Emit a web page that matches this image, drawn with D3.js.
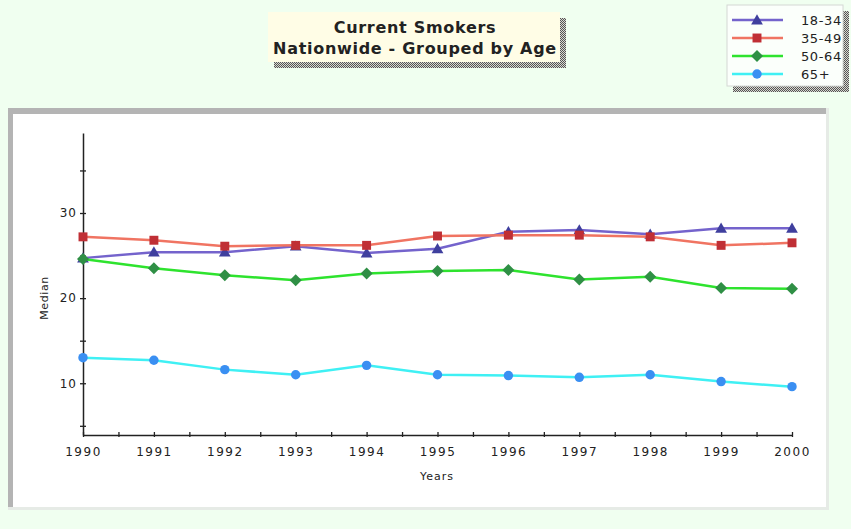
<!DOCTYPE html>
<html>
<head>
<meta charset="utf-8">
<script src="https://cdn.jsdelivr.net/npm/d3@7"></script>
<style>
  html, body { margin: 0; padding: 0; background: #f0fff0; }
  svg { display: block; }
  text { font-family: "DejaVu Sans", Verdana, sans-serif; fill: #222; }
</style>
</head>
<body>
<svg id="chart" width="851" height="529"></svg>
<script>
// Median share of current smokers, by age group, 1990-2000
const years = [1990, 1991, 1992, 1993, 1994, 1995, 1996, 1997, 1998, 1999, 2000];
const age18to34 = [24.7, 25.4, 25.4, 26.1, 25.3, 25.8, 27.8, 28.0, 27.5, 28.2, 28.2];
const age35to49 = [27.2, 26.8, 26.1, 26.2, 26.2, 27.3, 27.4, 27.4, 27.2, 26.2, 26.5];
const age50to64 = [24.6, 23.5, 22.7, 22.1, 22.9, 23.2, 23.3, 22.2, 22.5, 21.2, 21.1];
const age65plus = [13.0, 12.7, 11.6, 11.0, 12.1, 11.0, 10.9, 10.7, 11.0, 10.2, 9.6];
const seriesNames = ["18-34", "35-49", "50-64", "65+"];
const yTickValues = [5, 10, 15, 20, 25, 30, 35];
const yTickLabels = [10, 20, 30];
const xTickValues = [1990, 1990.5, 1991, 1991.5, 1992, 1992.5, 1993, 1993.5, 1994, 1994.5,
                     1995, 1995.5, 1996, 1996.5, 1997, 1997.5, 1998, 1998.5, 1999, 1999.5, 2000];
const titleLines = ["Current Smokers", "Nationwide - Grouped by Age"];

// square diamond (a square turned 45 degrees)
const symbolRhombus = {
  draw(ctx, size) {
    const r = Math.sqrt(size / 2);
    ctx.moveTo(0, -r); ctx.lineTo(r, 0); ctx.lineTo(0, r); ctx.lineTo(-r, 0); ctx.closePath();
  }
};

const series = [
  { name: seriesNames[0], values: age18to34, line: "#7463cc", mark: "#3f3f9e", symbol: d3.symbolTriangle, size: 60, dy: 1 },
  { name: seriesNames[1], values: age35to49, line: "#f07462", mark: "#c02f35", symbol: d3.symbolSquare, size: 80, dy: 0 },
  { name: seriesNames[2], values: age50to64, line: "#2ee32e", mark: "#2f8f45", symbol: symbolRhombus, size: 72, dy: 0 },
  { name: seriesNames[3], values: age65plus, line: "#3ff0f4", mark: "#3a8ff2", symbol: d3.symbolCircle, size: 70, dy: 0 }
];

const svg = d3.select("#chart");
const defs = svg.append("defs");

// stippled drop shadow
const pat = defs.append("pattern").attr("id", "stipple")
  .attr("width", 2).attr("height", 2).attr("patternUnits", "userSpaceOnUse");
pat.append("rect").attr("width", 2).attr("height", 2).attr("fill", "#d8d8d0");
pat.append("rect").attr("width", 1).attr("height", 1).attr("fill", "#555");
pat.append("rect").attr("x", 1).attr("y", 1).attr("width", 1).attr("height", 1).attr("fill", "#555");

// ---- title box ----
const tb = { x: 268, y: 12, w: 292, h: 50 };
svg.append("rect").attr("x", tb.x + 6).attr("y", tb.y + 6).attr("width", tb.w).attr("height", tb.h)
  .attr("fill", "url(#stipple)");
svg.append("rect").attr("x", tb.x).attr("y", tb.y).attr("width", tb.w).attr("height", tb.h)
  .attr("fill", "#fffde6");
svg.append("g").selectAll("text").data(titleLines).join("text")
  .attr("x", tb.x + tb.w / 2 + 1)
  .attr("y", (d, i) => 33 + i * 21)
  .attr("text-anchor", "middle")
  .attr("font-size", 16)
  .attr("font-weight", "bold")
  .attr("letter-spacing", 0.7)
  .attr("fill", "#222")
  .text(d => d);

// ---- legend ----
const lg = { x: 727, y: 5, w: 116, h: 81 };
svg.append("rect").attr("x", lg.x + 6).attr("y", lg.y + 6).attr("width", lg.w).attr("height", lg.h)
  .attr("fill", "url(#stipple)");
svg.append("rect").attr("x", lg.x).attr("y", lg.y).attr("width", lg.w).attr("height", lg.h)
  .attr("fill", "#fbfffb").attr("stroke", "#d4d8d4");
const lgRows = svg.append("g").selectAll("g").data(series).join("g")
  .attr("transform", (d, i) => `translate(0,${20 + i * 18})`);
lgRows.append("line").attr("x1", 732).attr("x2", 783)
  .attr("stroke", d => d.line).attr("stroke-width", 2.5);
lgRows.append("path")
  .attr("transform", d => `translate(757,${d.dy})`)
  .attr("d", d => d3.symbol(d.symbol, d.size)())
  .attr("fill", d => d.mark);
lgRows.append("text").attr("x", 801).attr("y", 5)
  .attr("font-size", 13).attr("letter-spacing", 0.6)
  .text(d => d.name);

// ---- plot panel ----
svg.append("rect").attr("x", 8).attr("y", 108).attr("width", 821).attr("height", 402).attr("fill", "#e6ebe6");
svg.append("rect").attr("x", 8).attr("y", 108).attr("width", 818).attr("height", 399).attr("fill", "#b4b4b4");
svg.append("rect").attr("x", 13).attr("y", 114).attr("width", 813).attr("height", 393).attr("fill", "#ffffff");

// ---- scales ----
const x = d3.scaleLinear().domain([1990, 2000]).range([83, 792]);
const y = d3.scaleLinear().domain([3.92, 39.4]).range([435, 133]);

// ---- axes ----
const yAxis = d3.axisLeft(y).tickValues(yTickValues).tickSize(0)
  .tickFormat(d => yTickLabels.includes(d) ? d : "");
const gy = svg.append("g").attr("transform", "translate(83,0)").call(yAxis);
gy.select(".domain").attr("stroke", "#222").attr("stroke-width", 1.5);
gy.selectAll(".tick line").attr("x1", -3).attr("x2", 3).attr("stroke", "#222").attr("stroke-width", 1.3);
gy.selectAll(".tick text").attr("x", -6).attr("font-size", 12).attr("letter-spacing", 1)
  .attr("fill", "#222").attr("font-family", "DejaVu Sans, Verdana, sans-serif");

const xAxis = d3.axisBottom(x).tickValues(xTickValues).tickSize(0)
  .tickFormat(d => Number.isInteger(d) ? d : "");
const gx = svg.append("g").attr("transform", "translate(0,435)").call(xAxis);
gx.select(".domain").attr("stroke", "#222").attr("stroke-width", 1.5);
gx.selectAll(".tick line").attr("y1", -3).attr("y2", 2).attr("stroke", "#222").attr("stroke-width", 1.3);
gx.selectAll(".tick text").attr("y", 12).attr("font-size", 12).attr("letter-spacing", 1.5)
  .attr("fill", "#222").attr("font-family", "DejaVu Sans, Verdana, sans-serif");

svg.append("text").attr("x", 437).attr("y", 480).attr("text-anchor", "middle")
  .attr("font-size", 11).attr("letter-spacing", 1).text("Years");
svg.append("text").attr("transform", "translate(48,298) rotate(-90)").attr("text-anchor", "middle")
  .attr("font-size", 11).attr("letter-spacing", 0.6).text("Median");

// ---- lines and markers ----
const line = d3.line().x((d, i) => x(years[i])).y(d => y(d));
const gs = svg.append("g").selectAll("g").data(series).join("g");
gs.append("path").attr("d", d => line(d.values))
  .attr("fill", "none").attr("stroke", d => d.line).attr("stroke-width", 2.5);
gs.each(function (s) {
  d3.select(this).selectAll("path.mk").data(s.values).join("path")
    .attr("class", "mk")
    .attr("transform", (v, i) => `translate(${x(years[i])},${y(v) + s.dy})`)
    .attr("d", d3.symbol(s.symbol, s.size)())
    .attr("fill", s.mark);
});
</script>
</body>
</html>
